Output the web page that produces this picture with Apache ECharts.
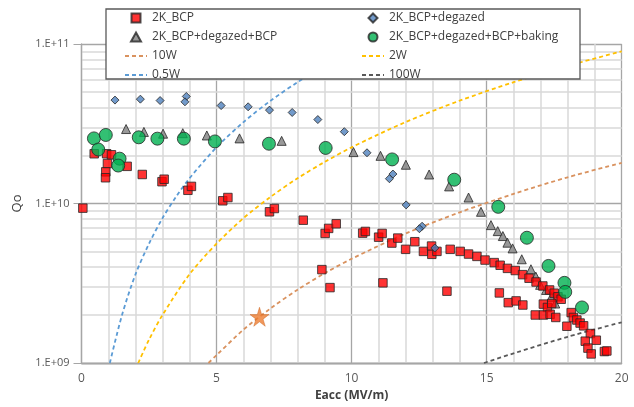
<!DOCTYPE html>
<html>
<head>
<meta charset="utf-8">
<script src="https://cdn.jsdelivr.net/npm/echarts@6/dist/echarts.min.js"></script>
<style>html,body{margin:0;padding:0;background:#fff}#c{width:634px;height:407px}</style>
</head>
<body>
<div id="c"></div>
<script>
// ---- data: [Eacc (MV/m), Q0] ----
const bcp = [
  [0.05,9.35e9],[0.47,2.05e10],[0.93,2.05e10],[1.11,2.02e10],[0.96,1.78e10],[0.9,1.58e10],[0.89,1.45e10],
  [1.69,1.71e10],[2.25,1.52e10],[2.98,1.37e10],[3.06,1.42e10],[3.94,1.21e10],[4.07,1.28e10],[5.23,1.04e10],[5.42,1.09e10],
  [6.96,8.87e9],[7.14,9.3e9],[8.21,7.86e9],[9.02,6.49e9],[9.15,6.98e9],[9.43,7.46e9],[8.9,3.85e9],[9.2,2.97e9],
  [10.41,6.52e9],[10.51,6.68e9],[11.0,6.15e9],[11.13,6.49e9],[11.16,3.18e9],[11.49,5.65e9],[11.71,6.07e9],[12.0,5.16e9],
  [12.34,5.76e9],[12.66,5.01e9],[12.96,5.41e9],[12.97,4.8e9],[13.16,5.01e9],[13.53,2.82e9],
  [13.65,5.16e9],[14.02,5.01e9],[14.33,4.82e9],[14.64,4.66e9],[14.94,4.42e9],[15.28,4.26e9],[15.5,4.1e9],[15.77,3.92e9],
  [16.06,3.8e9],[16.33,3.58e9],[16.57,3.4e9],[16.83,3.22e9],[17.08,3.04e9],[17.33,2.87e9],[17.5,2.74e9],[17.64,2.6e9],[17.76,2.51e9],
  [15.47,2.75e9],[15.8,2.39e9],[16.09,2.45e9],[16.34,2.31e9],[17.1,2.34e9],[17.25,2.23e9],[17.41,2.36e9],
  [16.8,2.0e9],[17.1,2.0e9],[17.35,2.02e9],[17.56,1.93e9],
  [18.13,2.07e9],[18.21,1.93e9],[18.34,1.86e9],[18.46,1.78e9],[18.59,1.71e9],[17.97,1.7e9],
  [18.84,1.53e9],[19.06,1.39e9],[18.65,1.37e9],[18.75,1.24e9],[18.87,1.14e9],[19.36,1.18e9],[19.45,1.19e9]
];
const bcpDegazed = [
  [1.24,4.45e10],[2.18,4.51e10],[2.91,4.42e10],[3.88,4.69e10],[3.83,4.34e10],[5.17,4.11e10],[6.17,4.04e10],
  [6.96,3.85e10],[7.80,3.72e10],[8.75,3.36e10],[9.73,2.82e10],[10.57,2.08e10],[11.53,1.53e10],[11.4,1.43e10],
  [12.02,9.8e9],[12.61,7.2e9],[12.51,6.95e9],[13.08,5.26e9]
];
const bcpDegazedBcp = [
  [1.65,2.93e10],[2.31,2.81e10],[3.02,2.74e10],[3.75,2.76e10],[4.64,2.67e10],[5.85,2.56e10],[7.41,2.47e10],
  [10.07,2.10e10],[11.07,1.99e10],[12.01,1.75e10],[12.87,1.52e10],[13.61,1.28e10],[14.33,1.09e10],
  [14.79,8.87e9],[15.16,7.32e9],[15.41,6.71e9],[15.6,6.25e9],[15.77,5.68e9],[15.96,5.23e9],[16.3,4.47e9],
  [16.64,3.87e9],[16.82,3.48e9],[16.98,3.09e9],[17.2,2.87e9],[17.4,2.6e9],[17.54,2.36e9]
];
const bcpDegazedBcpBaking = [
  [0.46,2.56e10],[0.9,2.69e10],[0.62,2.18e10],[1.41,1.91e10],[1.36,1.73e10],[2.12,2.60e10],[2.81,2.55e10],
  [3.79,2.55e10],[4.94,2.45e10],[6.94,2.37e10],[9.04,2.23e10],[11.5,1.89e10],[13.8,1.41e10],
  [15.43,9.53e9],[16.49,6.1e9],[17.29,4.06e9],[17.88,3.18e9],[17.91,2.79e9],[18.53,2.23e9]
];
// constant-power reference curves
const p10W  = [[4.7,1.0e9],[5,1.12e9],[6,1.62e9],[7,2.2e9],[8,2.88e9],[9,3.65e9],[10,4.5e9],[12,6.48e9],[14,8.8e9],[16,1.15e10],[18,1.46e10],[20,1.8e10]];
const p2W   = [[2.1,1.0e9],[2.5,1.4e9],[3,2.0e9],[4,3.6e9],[5,5.6e9],[6,8.1e9],[7,1.1e10],[8,1.44e10],[9,1.82e10],[10,2.25e10],[12,3.24e10],[14,4.41e10],[16,5.76e10],[18,7.29e10],[20,9.0e10]];
const p05W  = [[1.05,1.0e9],[1.5,2.0e9],[2,3.6e9],[2.5,5.6e9],[3,8.1e9],[3.5,1.1e10],[4,1.44e10],[5,2.25e10],[6,3.24e10],[7,4.41e10],[8,5.76e10],[9,7.29e10],[10,9.0e10],[10.6,1.01e11]];
const p100W = [[14.9,1.0e9],[16,1.15e9],[18,1.46e9],[20,1.8e9]];
const star = [[6.59,1.95e9]];
// axis ticks
const yTickLabels = {9:'1.E+09',10:'1.E+10',11:'1.E+11'};
const yMinorLines = [2e9,3e9,4e9,5e9,6e9,7e9,8e9,9e9,2e10,3e10,4e10,5e10,6e10,7e10,8e10,9e10];

const FONT = 'Open Sans';
const ICON_SQ = 'path://M0,0L10,0L10,10L0,10Z';
const ICON_DIA = 'path://M5,0L10,5L5,10L0,5Z';
const ICON_TRI = 'path://M5,0L10,9L0,9Z';
const ICON_CIR = 'circle';
const chart = echarts.init(document.getElementById('c'), null, {renderer:'canvas'});
const sq = {borderColor:'#262626', borderWidth:1};
const dashed = (c) => ({color:c, width:1.8, type:[4,3]});
const lineItem = (n) => ({name:n, icon:'inherit', itemStyle:{opacity:0, borderWidth:0}});
const legendBase = {z:60, orient:'vertical', top:12, itemWidth:22, itemHeight:9, itemGap:7, padding:0,
  symbolKeepAspect:true, textStyle:{fontFamily:FONT, fontSize:12, color:'#404040'}};
chart.setOption({
  animation:false,
  textStyle:{fontFamily:FONT},
  grid:{left:81.5, right:12.3, top:44, bottom:43, show:false},
  graphic:[{type:'rect', z:50, shape:{x:106, y:9, width:474, height:70},
    style:{fill:'#fff', stroke:'#595959', lineWidth:1.3}}],
  legend:[
    Object.assign({}, legendBase, {left:124,
     data:[{name:'2K_BCP', icon:ICON_SQ}, {name:'2K_BCP+degazed+BCP', icon:ICON_TRI},
           lineItem('10W'), lineItem('0.5W')]}),
    Object.assign({}, legendBase, {left:361,
     data:[{name:'2K_BCP+degazed', icon:ICON_DIA}, {name:'2K_BCP+degazed+BCP+baking', icon:ICON_CIR},
           lineItem('2W'), lineItem('100W')]})
  ],
  xAxis:{type:'value', min:0, max:20, interval:5,
    name:'Eacc (MV/m)', nameLocation:'middle', nameGap:27,
    nameTextStyle:{fontFamily:FONT, fontSize:12, fontWeight:'bold', color:'#404040'},
    axisLine:{lineStyle:{color:'#a6a6a6', width:1.3}},
    axisTick:{show:false},
    axisLabel:{color:'#595959', fontSize:12, margin:10},
    splitLine:{lineStyle:{color:'#a6a6a6', width:1.3}},
    minorTick:{show:false, splitNumber:5},
    minorSplitLine:{show:true, lineStyle:{color:'#d9d9d9', width:1.5}}
  },
  yAxis:{type:'log', min:1e9, max:1e11, logBase:10,
    name:'Qo', nameLocation:'middle', nameGap:58, nameRotate:90,
    nameTextStyle:{fontFamily:FONT, fontSize:13, color:'#404040'},
    axisLine:{show:true, onZero:false, lineStyle:{color:'#a6a6a6', width:1.3}},
    axisTick:{show:true, length:8, lineStyle:{color:'#a6a6a6'}},
    axisLabel:{color:'#595959', fontSize:11, margin:12,
      formatter:(v)=>yTickLabels[Math.round(Math.log10(v))] || ''},
    splitLine:{lineStyle:{color:'#a6a6a6', width:1.3}}
  },
  series:[
    {type:'line', name:'_minor', z:0, data:[], silent:true,
     markLine:{silent:true, z:0, symbol:'none', label:{show:false}, animation:false,
       lineStyle:{color:'#d9d9d9', width:1.5, type:'solid'},
       data:yMinorLines.map(v=>({yAxis:v}))}},
    {type:'line', name:'10W', data:p10W, smooth:0.3, showSymbol:false, symbol:'none', z:2, lineStyle:dashed('#D9925F'), itemStyle:{color:'#D9925F'}},
    {type:'line', name:'2W', data:p2W, smooth:0.3, showSymbol:false, symbol:'none', z:2, lineStyle:dashed('#FFC000'), itemStyle:{color:'#FFC000'}},
    {type:'line', name:'0.5W', data:p05W, smooth:0.3, showSymbol:false, symbol:'none', z:2, lineStyle:dashed('#5B9BD5'), itemStyle:{color:'#5B9BD5'}},
    {type:'line', name:'100W', data:p100W, smooth:0.3, showSymbol:false, symbol:'none', z:2, lineStyle:dashed('#595959'), itemStyle:{color:'#595959'}},
    {type:'scatter', name:'2K_BCP+degazed+BCP', data:bcpDegazedBcp, symbol:'triangle', symbolSize:9, z:3,
     itemStyle:Object.assign({color:'#7f7f7f'}, sq)},
    {type:'scatter', name:'2K_BCP', data:bcp, symbol:'rect', symbolSize:8.5, z:4,
     itemStyle:Object.assign({color:'#ff0000'}, sq)},
    {type:'scatter', name:'2K_BCP+degazed', data:bcpDegazed, symbol:'diamond', symbolSize:8, z:5,
     itemStyle:Object.assign({color:'#4f81bd'}, sq)},
    {type:'scatter', name:'2K_BCP+degazed+BCP+baking', data:bcpDegazedBcpBaking, symbol:'circle', symbolSize:13, z:6,
     itemStyle:Object.assign({color:'#00b050'}, sq)},
    {type:'scatter', name:'_star', data:star, z:6, symbolSize:19,
     symbol:'path://M50,0 L61,35 L98,35 L68,57 L79,91 L50,70 L21,91 L32,57 L2,35 L39,35 Z',
     itemStyle:{color:'#ED7D31', borderColor:'#c55a11', borderWidth:0.5}}
  ]
});
</script>
</body>
</html>
